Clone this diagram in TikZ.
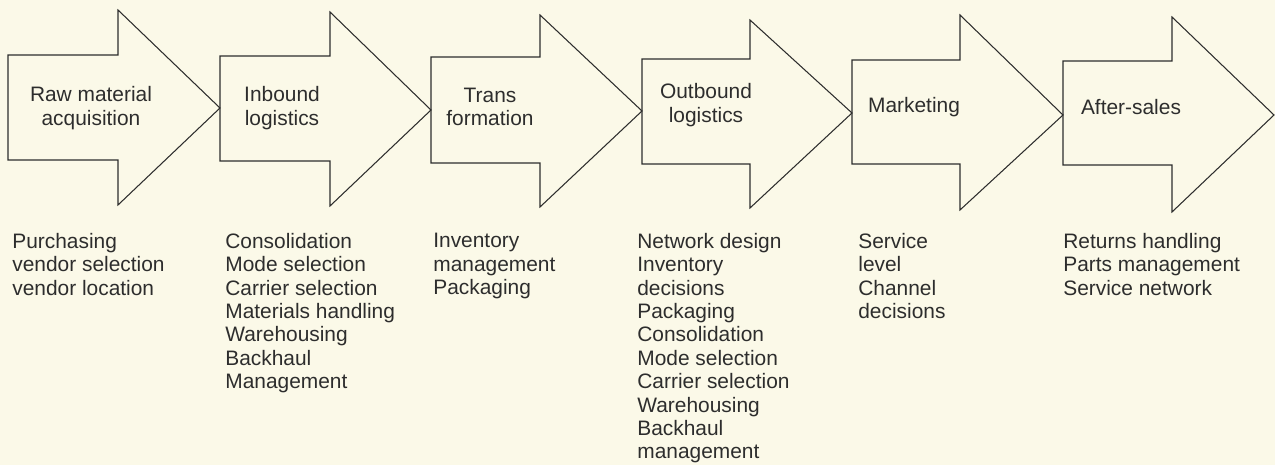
\documentclass[tikz,border=0pt]{standalone}
\usepackage{fontspec}
\setmainfont{Liberation Sans}
\usetikzlibrary{positioning}

\definecolor{paper}{RGB}{251,249,232}
\definecolor{ink}{RGB}{45,45,45}

\tikzset{
  stage/.style={draw=ink, line width=0.6pt, line join=miter},
  stagelabel/.style={text=ink, align=center, inner sep=0pt, font=\fontsize{11.9}{13.3}\selectfont},
  tasklist/.style={text=ink, align=left, anchor=north west, inner sep=0pt, font=\fontsize{11.9}{13.3}\selectfont},
}

\begin{document}
\begin{tikzpicture}[x=0.02cm, y=-0.02cm]
    \fill[paper] (0,0) rectangle (1275,465);
    \useasboundingbox (0,0) rectangle (1275,465);

    \draw[stage] (8,55) -- (118,55) -- (118,10) -- (220,108) -- (118,205) -- (118,160) -- (8,160) -- cycle;
    \draw[stage] (220,56) -- (330,56) -- (330,12) -- (431,110) -- (330,206) -- (330,161) -- (220,161) -- cycle;
    \draw[stage] (431,57) -- (540,57) -- (540,15) -- (642,111) -- (540,207) -- (540,163) -- (431,163) -- cycle;
    \draw[stage] (642,59) -- (750,59) -- (750,20) -- (852,113) -- (750,208) -- (750,164) -- (642,164) -- cycle;
    \draw[stage] (852,60) -- (960,60) -- (960,15) -- (1063,115) -- (960,210) -- (960,164) -- (852,164) -- cycle;
    \draw[stage] (1063,61) -- (1172,61) -- (1172,17) -- (1274,115) -- (1172,212) -- (1172,165) -- (1063,165) -- cycle;

    \node[stagelabel] (rawlbl) at (91,108) {Raw material\\acquisition};
    \node[stagelabel] (inblbl) at (282,108) {Inbound\\logistics};
    \node[stagelabel] (translbl) at (490,107) {Trans\\formation};
    \node[stagelabel] (outlbl) at (706,105) {Outbound\\logistics};
    \node[stagelabel] (mktlbl) at (914,107) {Marketing};
    \node[stagelabel] (aftlbl) at (1131,107) {After-sales};

    % activities under each stage
    \node[tasklist] (rawtasks) at (12,233) {Purchasing\\vendor selection\\vendor location};
    \node[tasklist] (inbtasks) at (225,233) {Consolidation\\Mode selection\\Carrier selection\\Materials handling\\Warehousing\\Backhaul\\Management};
    \node[tasklist] (transtasks) at (433,233) {Inventory\\management\\Packaging};
    \node[tasklist] (outtasks) at (637,233) {Network design\\Inventory\\decisions\\Packaging\\Consolidation\\Mode selection\\Carrier selection\\Warehousing\\Backhaul\\management};
    \node[tasklist] (mkttasks) at (858,233) {Service\\level\\Channel\\decisions};
    \node[tasklist] (afttasks) at (1063,233) {Returns handling\\Parts management\\Service network};
\end{tikzpicture}
\end{document}
